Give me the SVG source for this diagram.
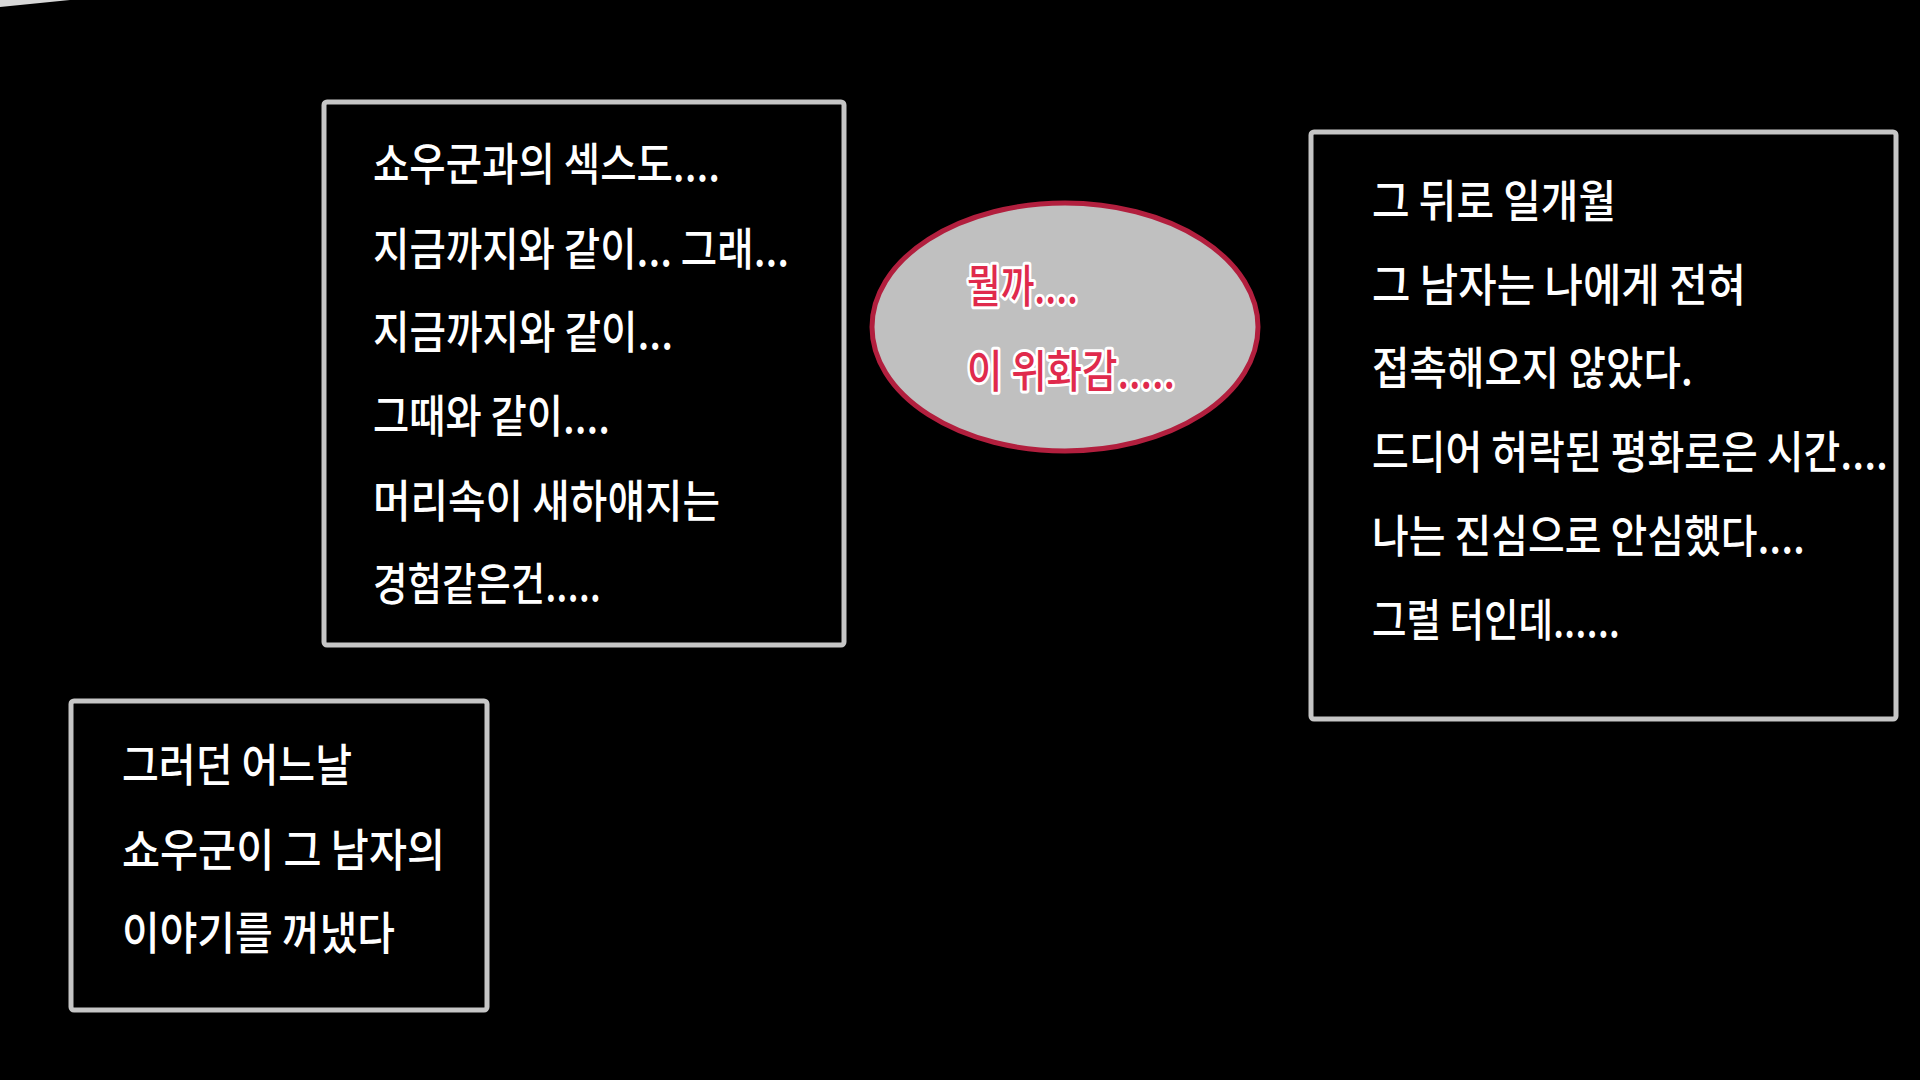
<svg xmlns="http://www.w3.org/2000/svg" width="1920" height="1080" viewBox="0 0 1920 1080">
<style>
.box{fill:#000;stroke:#c6c6c6;stroke-width:5}
.t{font-family:"Noto Sans CJK KR","Noto Sans",sans-serif;font-size:45px;fill:#fff;font-weight:500}
.r{font-family:"Noto Sans CJK KR","Noto Sans",sans-serif;font-size:45px;fill:#e02a4c;stroke:#fff;stroke-width:6;stroke-linejoin:round;paint-order:stroke;font-weight:500}
</style>
<rect width="1920" height="1080" fill="#000"/>
<polygon points="0,0 70,0 20,5 0,7" fill="#d8d8d8"/>
<g id="box-top">
<rect class="box" x="324" y="102" width="520" height="543" rx="3"/>
<text class="t" x="373" y="181" textLength="347" lengthAdjust="spacingAndGlyphs">쇼우군과의 섹스도....</text>
<text class="t" x="373" y="266" textLength="416" lengthAdjust="spacingAndGlyphs">지금까지와 같이... 그래...</text>
<text class="t" x="373" y="349" textLength="300" lengthAdjust="spacingAndGlyphs">지금까지와 같이...</text>
<text class="t" x="373" y="433" textLength="237" lengthAdjust="spacingAndGlyphs">그때와 같이....</text>
<text class="t" x="373" y="518" textLength="347" lengthAdjust="spacingAndGlyphs">머리속이 새하얘지는</text>
<text class="t" x="373" y="601" textLength="228" lengthAdjust="spacingAndGlyphs">경험같은건.....</text>
</g>
<g id="box-bottom">
<rect class="box" x="71" y="701" width="416" height="309" rx="3"/>
<text class="t" x="122" y="782" textLength="230" lengthAdjust="spacingAndGlyphs">그러던 어느날</text>
<text class="t" x="122" y="867" textLength="323" lengthAdjust="spacingAndGlyphs">쇼우군이 그 남자의</text>
<text class="t" x="122" y="950" textLength="273" lengthAdjust="spacingAndGlyphs">이야기를 꺼냈다</text>
</g>
<g id="bubble">
<ellipse cx="1065" cy="327" rx="193" ry="124" fill="#c0c0c0" stroke="#b21f3e" stroke-width="5"/>
<text class="r" x="967" y="303" textLength="111" lengthAdjust="spacingAndGlyphs">뭘까....</text>
<text class="r" x="967" y="388" textLength="208" lengthAdjust="spacingAndGlyphs">이 위화감.....</text>
</g>
<g id="box-right">
<rect class="box" x="1311" y="132" width="585" height="587" rx="3"/>
<text class="t" x="1372" y="218" textLength="244" lengthAdjust="spacingAndGlyphs">그 뒤로 일개월</text>
<text class="t" x="1372" y="302" textLength="374" lengthAdjust="spacingAndGlyphs">그 남자는 나에게 전혀</text>
<text class="t" x="1372" y="385" textLength="321" lengthAdjust="spacingAndGlyphs">접촉해오지 않았다.</text>
<text class="t" x="1372" y="469" textLength="516" lengthAdjust="spacingAndGlyphs">드디어 허락된 평화로은 시간....</text>
<text class="t" x="1372" y="553" textLength="433" lengthAdjust="spacingAndGlyphs">나는 진심으로 안심했다....</text>
<text class="t" x="1372" y="637" textLength="248" lengthAdjust="spacingAndGlyphs">그럴 터인데......</text>
</g>
<g id="connectors"/>
</svg>
